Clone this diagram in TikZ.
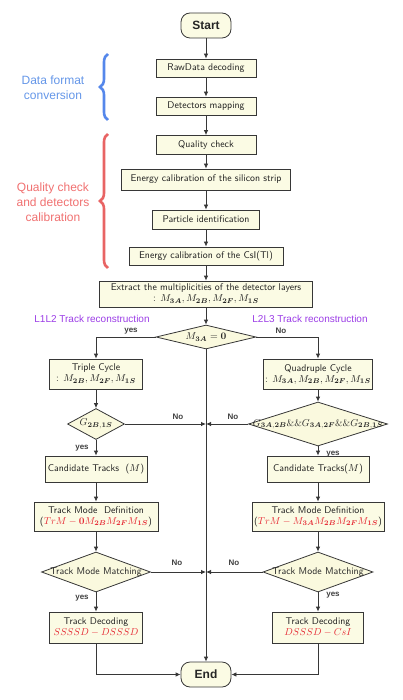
\documentclass[tikz,border=0pt]{standalone}
\usepackage{fontspec}
\usepackage{amsmath}
\usepackage{bm}
\newfontfamily\arialf{Liberation Sans}
\usetikzlibrary{shapes.geometric,arrows.meta,decorations.pathreplacing}
\definecolor{boxfill}{RGB}{251,251,228}
\definecolor{diafill}{RGB}{250,249,222}
\definecolor{lineg}{RGB}{55,55,55}
\definecolor{tred}{RGB}{230,45,55}
\definecolor{purp}{RGB}{155,60,230}
\definecolor{bluet}{RGB}{100,150,232}
\definecolor{blueb}{RGB}{85,135,235}
\definecolor{redt}{RGB}{240,112,112}
\definecolor{redb}{RGB}{232,100,100}
\tikzset{
  box/.style={draw=lineg, fill=boxfill, line width=0.8pt, text=black!88,
    font=\sffamily\fontsize{9.8}{12}\selectfont, inner xsep=2pt, inner ysep=2pt,
    align=center},
  term/.style={draw=lineg, fill=boxfill, line width=0.8pt, rounded corners=9pt,
    font=\arialf\bfseries\fontsize{12}{14}\selectfont, text=black!85,
    minimum width=50pt, minimum height=25pt},
  dia/.style={diamond, draw=lineg, fill=diafill, line width=0.8pt, inner sep=0pt},
  diatext/.style={font=\sffamily\fontsize{9.8}{12}\selectfont, text=black!85, inner sep=0pt},
  arr/.style={draw=lineg, line width=0.8pt, -{Latex[length=5pt,width=4.5pt]}},
  lab/.style={font=\arialf\bfseries\fontsize{8}{9}\selectfont, text=black!75},
  side/.style={font=\arialf\fontsize{12}{15}\selectfont, align=center},
  brc/.style={decorate, decoration={brace, amplitude=8pt}, line width=2.6pt},
}
\begin{document}
\begin{tikzpicture}[x=1pt,y=-1pt]
\useasboundingbox (0,0) rectangle (403,700);
% main column
\node[term] (start) at (206,25.5) {Start};
\node[box, minimum width=100pt, minimum height=18pt] (raw) at (206,68) {RawData decoding};
\node[box, minimum width=100pt, minimum height=18pt] (det) at (206,106) {Detectors mapping};
\node[box, minimum width=100pt, minimum height=19pt] (qc) at (206,145) {Quality check};
\node[box, minimum width=169pt, minimum height=21pt] (esi) at (206,179.5) {Energy calibration of the silicon strip};
\node[box, minimum width=107pt, minimum height=19pt] (pid) at (206,219.5) {Particle identification};
\node[box, minimum width=154pt, minimum height=18pt] (csi) at (206,256) {Energy calibration of the CsI(Tl)};
\node[box, minimum width=213pt, minimum height=26pt, inner ysep=1pt] (ext) at (206,294)
  {Extract the multiplicities of the detector layers\\[-1pt] : $M_{\bm{3A}}, M_{\bm{2B}}, M_{\bm{2F}}, M_{\bm{1S}}$};
\node[dia, minimum width=100pt, minimum height=24pt] (dec) at (206,337) {};
\node[diatext] (dect) at (dec.center) {$M_{\bm{3A}}=\bm{0}$};
% left branch
\node[box, minimum width=93pt, minimum height=30pt, inner ysep=1pt] (tri) at (96,374)
  {Triple Cycle\\[-1pt] : $M_{\bm{2B}}, M_{\bm{2F}}, M_{\bm{1S}}$};
\node[dia, minimum width=57pt, minimum height=31pt] (g1) at (96,424) {};
\node[diatext] (g1t) at (g1.center) {$G_{\bm{2B},\bm{1S}}$};
\node[box, minimum width=102pt, minimum height=26pt] (cl) at (96,469) {Candidate Tracks\ \ ($M$)};
\node[box, minimum width=124pt, minimum height=29pt, inner ysep=1pt] (tl) at (96,516.5)
  {Track Mode\ \ Definition\\[-1pt] ({\color{tred}$TrM-\bm{0}M_{\bm{2B}}M_{\bm{2F}}M_{\bm{1S}}$})};
\node[dia, minimum width=109pt, minimum height=40pt] (ml) at (96,572) {};
\node[diatext] (mlt) at (ml.center) {Track Mode Matching};
\node[box, minimum width=93pt, minimum height=31pt, inner ysep=1pt] (dl) at (96,627.5)
  {Track Decoding\\[-1pt] {\color{tred}$SSSSD-DSSSD$}};
% right branch
\node[box, minimum width=108pt, minimum height=30pt, inner ysep=1pt] (quad) at (318,374)
  {Quadruple Cycle\\[-1pt] : $M_{\bm{3A}}, M_{\bm{2B}}, M_{\bm{2F}}, M_{\bm{1S}}$};
\node[dia, minimum width=139pt, minimum height=44pt] (g2) at (318,424) {};
\node[diatext] (g2t) at (g2.center) {$G_{\bm{3A},\bm{2B}}\&\&G_{\bm{3A},\bm{2F}}\&\&G_{\bm{2B},\bm{1S}}$};
\node[box, minimum width=102pt, minimum height=26pt] (cr) at (318,469) {Candidate Tracks($M$)};
\node[box, minimum width=127pt, minimum height=29pt, inner ysep=1pt] (tr) at (318,516.5)
  {Track Mode Definition\\[-1pt] ({\color{tred}$TrM-M_{\bm{3A}}M_{\bm{2B}}M_{\bm{2F}}M_{\bm{1S}}$})};
\node[dia, minimum width=110pt, minimum height=40pt] (mr) at (318,572) {};
\node[diatext] (mrt) at (mr.center) {Track Mode Matching};
\node[box, minimum width=91pt, minimum height=31pt, inner ysep=1pt] (dr) at (318,627.5)
  {Track Decoding\\[-1pt] {\color{tred}$DSSSD-CsI$}};
\node[term] (end) at (206,674.5) {End};
% junctions
\coordinate (j1) at (206,424);
\coordinate (j2) at (206,572);
% connectors main
\draw[arr] (start) -- (raw);
\draw[arr] (raw) -- (det);
\draw[arr] (det) -- (qc);
\draw[arr] (qc) -- (esi);
\draw[arr] (esi) -- (pid);
\draw[arr] (pid) -- (csi);
\draw[arr] (csi) -- (ext);
\draw[arr] (ext) -- (dec);
\draw[arr] (dec.west) -| (tri.north);
\draw[arr] (dec.east) -| (quad.north);
\draw[arr] (dec.south) -- (end.north);
\draw[arr] (tri) -- (g1);
\draw[arr] (quad) -- (g2);
\draw[arr] (g1.east) -- (j1);
\draw[arr] (g2.west) -- (j1);
\draw[arr] (g1.south) -- (cl.north);
\draw[arr] (g2.south) -- (cr.north);
\draw[arr] (cl) -- (tl);
\draw[arr] (cr) -- (tr);
\draw[arr] (tl) -- (ml.north);
\draw[arr] (tr) -- (mr.north);
\draw[arr] (ml.east) -- (j2);
\draw[arr] (mr.west) -- (j2);
\draw[arr] (ml.south) -- (dl.north);
\draw[arr] (mr.south) -- (dr.north);
\draw[arr] (dl.south) |- (end.west);
\draw[arr] (dr.south) |- (end.east);
% connector labels
\node[lab] (y1) at (131,331) {yes};
\node[lab] (n1) at (281,331) {No};
\node[lab] (n2) at (178,417) {No};
\node[lab] (n3) at (233,417) {No};
\node[lab] (y2) at (82,448) {yes};
\node[lab] (y3) at (333,454) {yes};
\node[lab] (n4) at (177,563) {No};
\node[lab] (n5) at (234,563) {No};
\node[lab] (y4) at (82,598) {yes};
\node[lab] (y5) at (333,595) {yes};
% section labels
\node[font=\arialf\fontsize{10}{12}\selectfont, text=purp] (l12) at (92,319) {L1L2 Track reconstruction};
\node[font=\arialf\fontsize{10}{12}\selectfont, text=purp] (l23) at (310,319) {L2L3 Track reconstruction};
% braces
\coordinate (b1a) at (108,120);
\coordinate (b1b) at (108,54);
\coordinate (b2a) at (108,268);
\coordinate (b2b) at (108,134);
\draw[brc, blueb] (b1a) -- (b1b);
\draw[brc, redb] (b2a) -- (b2b);
\node[side, text=bluet] (s1) at (53,87.5) {Data format\\conversion};
\node[side, text=redt] (s2) at (53,202) {Quality check\\and detectors\\calibration};
\end{tikzpicture}
\end{document}
